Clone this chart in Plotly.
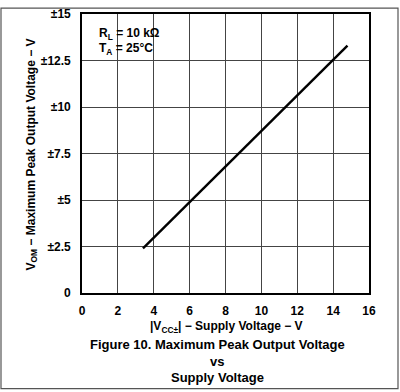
import plotly.graph_objects as go

supply_v = [3.4, 14.8]
vom = [2.4, 13.3]
x_ticks = [0, 2, 4, 6, 8, 10, 12, 14, 16]
y_ticks = [0, 2.5, 5, 7.5, 10, 12.5, 15]
y_tick_labels = ["0", "±2.5", "±5", "±7.5", "±10", "±12.5", "±15"]

FONT = "Liberation Sans, Arial, sans-serif"

fig = go.Figure()
fig.add_trace(go.Scatter(x=supply_v, y=vom, mode="lines",
                         line=dict(color="black", width=2.4), showlegend=False,
                         hoverinfo="skip"))

axis_common = dict(showgrid=True, gridcolor="#444444", gridwidth=1,
                   showline=True, linecolor="black", linewidth=1.6, mirror=True,
                   zeroline=False, ticks="", tickfont=dict(family=FONT, size=12, color="black"))

fig.update_layout(
    width=400, height=392,
    margin=dict(l=82, r=31, t=7, b=99),
    paper_bgcolor="white", plot_bgcolor="white",
    font=dict(family=FONT, color="black"),
    xaxis=dict(range=[0, 16], tickvals=x_ticks, ticktext=[f"<b>{v}</b>" for v in x_ticks],
               ticklabelstandoff=6, **axis_common),
    yaxis=dict(range=[0, 15], tickvals=y_ticks, ticktext=[f"<b>{t}</b>" for t in y_tick_labels],
               ticklabelstandoff=7, **axis_common),
)


def px_x(p):
    return (p - 82) / 287


def px_y(p):
    return (293 - p) / 286


for txt, yy in [("<b>R<sub>L</sub> = 10 kΩ</b>", 27), ("<b>T<sub>A</sub> = 25°C</b>", 43)]:
    fig.add_annotation(text=txt, xref="paper", yref="paper",
                       x=px_x(97), y=px_y(yy), xanchor="left", yanchor="middle",
                       showarrow=False, font=dict(family=FONT, size=12, color="black"))

fig.add_annotation(text="<b>V<sub>OM</sub> − Maximum Peak Output Voltage − V</b>",
                   xref="paper", yref="paper", x=px_x(32), y=px_y(151),
                   xanchor="center", yanchor="middle", textangle=-90, showarrow=False,
                   font=dict(family=FONT, size=12, color="black"))
fig.add_annotation(text="<b>|V<sub>CC±</sub>| − Supply Voltage − V</b>",
                   xref="paper", yref="paper", x=px_x(226), y=px_y(328),
                   xanchor="center", yanchor="middle", showarrow=False,
                   font=dict(family=FONT, size=12, color="black"))
for txt, yy in [("Figure 10. Maximum Peak Output Voltage", 346),
                ("vs", 363), ("Supply Voltage", 380)]:
    fig.add_annotation(text=f"<b>{txt}</b>", xref="paper", yref="paper",
                       x=px_x(217), y=px_y(yy), xanchor="center", yanchor="middle",
                       showarrow=False, font=dict(family=FONT, size=13, color="black"))

fig.add_shape(type="rect", xref="paper", yref="paper",
              x0=px_x(1), x1=px_x(398), y0=px_y(1), y1=px_y(391),
              line=dict(color="#555555", width=1.2), fillcolor="rgba(0,0,0,0)", layer="above")

fig.write_html("out.html", config={"displayModeBar": False},
               post_script="document.body.style.margin='0';document.body.style.overflow='hidden';")
